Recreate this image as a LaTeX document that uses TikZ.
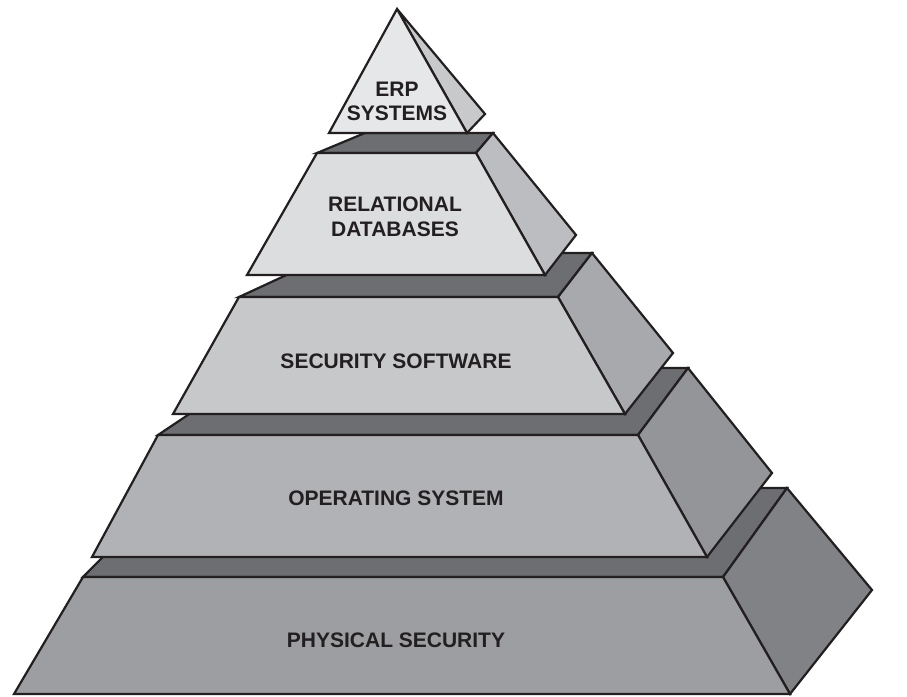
\documentclass[tikz,border=0pt]{standalone}
\usepackage{fontspec}
\setmainfont{Liberation Sans}
\definecolor{outline}{HTML}{231F20}
\definecolor{topc}{HTML}{6D6E71}
\definecolor{fa}{HTML}{E6E7E8}
\definecolor{sa}{HTML}{C8C9CB}
\definecolor{fb}{HTML}{DCDDDF}
\definecolor{sb}{HTML}{BCBDC0}
\definecolor{fc}{HTML}{C7C8CA}
\definecolor{sc}{HTML}{A7A9AC}
\definecolor{fd}{HTML}{B1B2B5}
\definecolor{sd}{HTML}{939598}
\definecolor{fe}{HTML}{9D9EA1}
\definecolor{se}{HTML}{818285}
\begin{document}
\begin{tikzpicture}[x=1pt,y=-1pt,
  face/.style={draw=outline, line width=2.2pt, line join=miter},
  lbl/.style={font=\bfseries\fontsize{21}{25}\selectfont, text=outline, align=center, inner sep=0pt}]
\useasboundingbox (0,0) rectangle (907,696);
% Level 5 : physical security
\filldraw[face, fill=topc] (83,577) -- (172,487) -- (787,488) -- (723,577) -- cycle;
\filldraw[face, fill=se] (723,577) -- (787,488) -- (872,590) -- (790,694) -- cycle;
\filldraw[face, fill=fe] (83,577) -- (723,577) -- (790,694) -- (14,694) -- cycle;
% Level 4 : operating system
\filldraw[face, fill=topc] (158,435) -- (258,368) -- (688,368) -- (638,435) -- cycle;
\filldraw[face, fill=sd] (638,435) -- (688,368) -- (772,473) -- (707,557) -- cycle;
\filldraw[face, fill=fd] (158,435) -- (638,435) -- (707,557) -- (92,557) -- cycle;
% Level 3 : security software
\filldraw[face, fill=topc] (239,297) -- (334,253) -- (592,253) -- (558,297) -- cycle;
\filldraw[face, fill=sc] (558,297) -- (592,253) -- (673,353) -- (625,414) -- cycle;
\filldraw[face, fill=fc] (239,297) -- (558,297) -- (625,414) -- (173,414) -- cycle;
% Level 2 : relational databases
\filldraw[face, fill=topc] (317,153) -- (365,133) -- (493,133) -- (476,153) -- cycle;
\filldraw[face, fill=sb] (476,153) -- (493,133) -- (576,235) -- (545,275) -- cycle;
\filldraw[face, fill=fb] (317,153) -- (476,153) -- (545,275) -- (247,275) -- cycle;
% Level 1 : ERP systems
\filldraw[face, fill=sa] (397,9) -- (485,114) -- (467,133) -- cycle;
\filldraw[face, fill=fa] (397,9) -- (467,133) -- (329,133) -- cycle;
% Labels
\node[lbl] (erp) at (397,101) {ERP\\[-1pt]SYSTEMS};
\node[lbl] (rel) at (395,217) {RELATIONAL\\DATABASES};
\node[lbl] (sec) at (396,361) {SECURITY SOFTWARE};
\node[lbl] (os) at (396,498) {OPERATING SYSTEM};
\node[lbl] (phy) at (396,640) {PHYSICAL SECURITY};
\end{tikzpicture}
\end{document}
